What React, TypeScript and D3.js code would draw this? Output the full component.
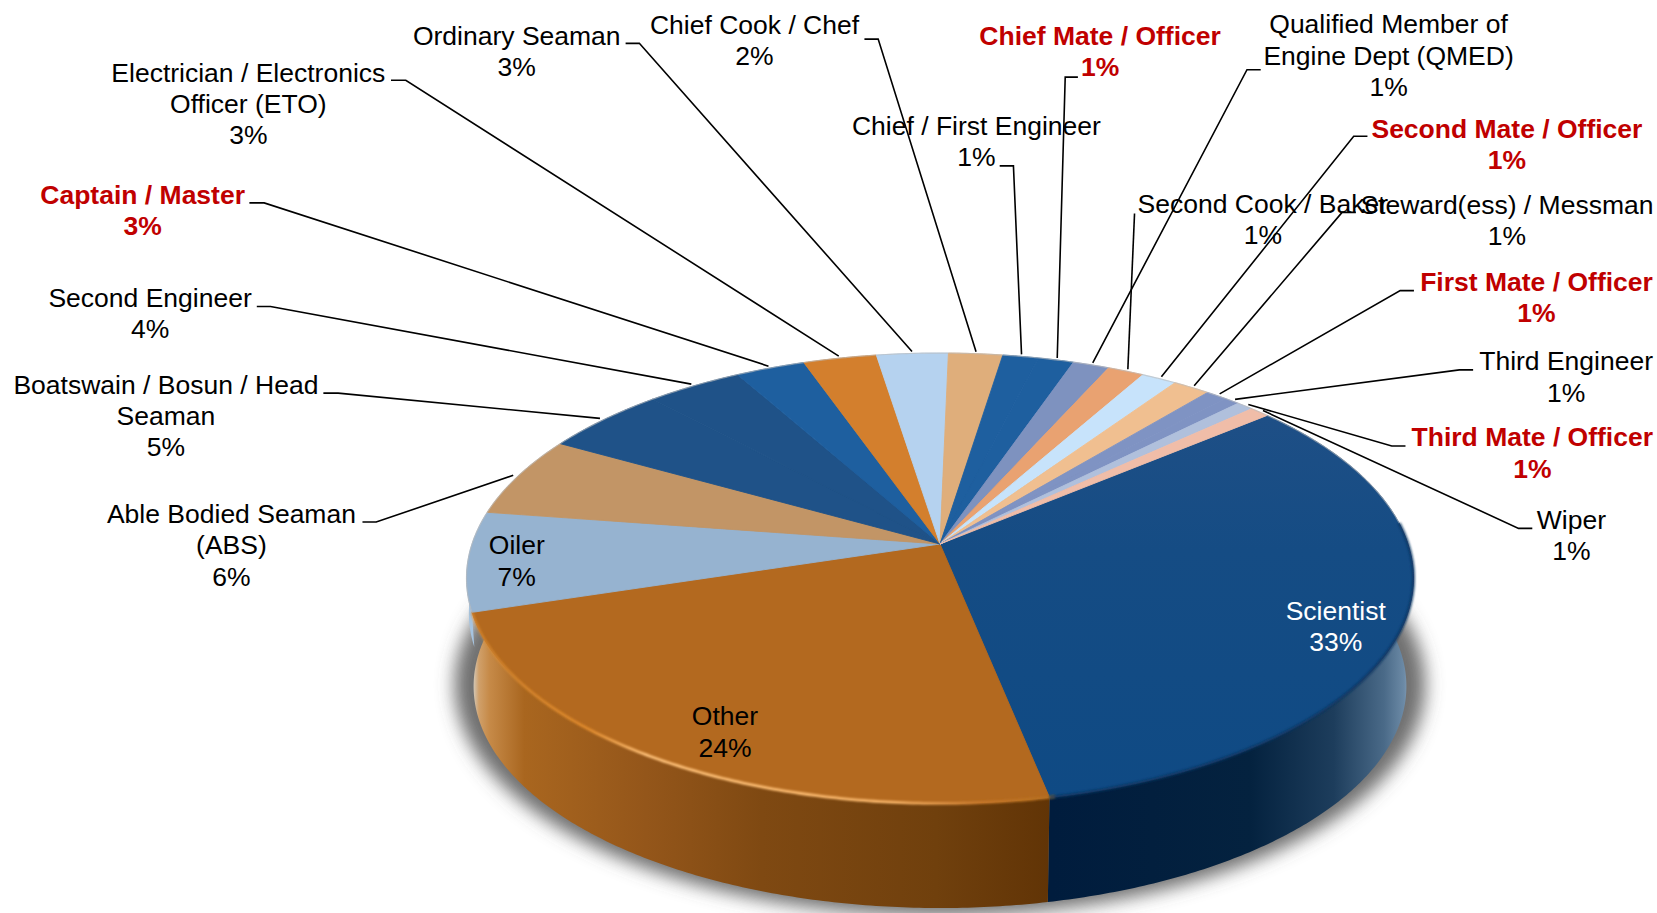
import React from "react";
import * as d3 from "d3";

const categories = ["Scientist","Other","Oiler","Able Bodied Seaman (ABS)","Boatswain / Bosun / Head Seaman","Second Engineer","Captain / Master","Electrician / Electronics Officer (ETO)","Ordinary Seaman","Chief Cook / Chef","Chief / First Engineer","Chief Mate / Officer","Qualified Member of Engine Dept (QMED)","Second Cook / Baker","Second Mate / Officer","Steward(ess) / Messman","First Mate / Officer","Third Engineer","Third Mate / Officer","Wiper"];
const values = [32.9,23.4,7.15,5.8,4.9,3.8,2.75,2.9,2.83,2.14,1.41,1.41,1.44,1.44,1.39,1.47,0.84,0.6,0.67,0.78];
const percentLabels = ["33%","24%","7%","6%","5%","4%","3%","3%","3%","2%","1%","1%","1%","1%","1%","1%","1%","1%","1%","1%"];
const topColors = ["#174c85","#b3691f","#96b3d0","#c29566","#1f5288","#1f5288","#1e5f9f","#d37f2d","#b5d2ef","#dfae7b","#1e5f9f","#1e5f9f","#7e92bf","#e9a271","#c7e3fb","#f0bf90","#7f93c3","#7f93c3","#b0c0dc","#f0bda8"];
const boldRed = ["Captain / Master","Chief Mate / Officer","Second Mate / Officer","First Mate / Officer","Third Mate / Officer"];

const lineBreaks: Record<string,string[]> = {
  "Able Bodied Seaman (ABS)":["Able Bodied Seaman","(ABS)"],
  "Boatswain / Bosun / Head Seaman":["Boatswain / Bosun / Head","Seaman"],
  "Electrician / Electronics Officer (ETO)":["Electrician / Electronics","Officer (ETO)"],
  "Qualified Member of Engine Dept (QMED)":["Qualified Member of","Engine Dept (QMED)"],
};
// [centre x, first-line centre y, elbow start x, elbow x, elbow y] in 1568-wide reference units
const labelLayout: Record<string,number[]> = {
  "Scientist":[1264,578],
  "Other":[686,678],
  "Oiler":[489,516],
  "Able Bodied Seaman (ABS)":[219,486.5,343,356,494],
  "Boatswain / Bosun / Head Seaman":[157,364,306,320,372],
  "Second Engineer":[142,282,243,256,290],
  "Captain / Master":[135,184.5,236,250,192],
  "Electrician / Electronics Officer (ETO)":[235,69,370,384,76],
  "Ordinary Seaman":[489,34,592,605,41],
  "Chief Cook / Chef":[714,23.5,818,831,37],
  "Chief / First Engineer":[924,119,946,959,157],
  "Chief Mate / Officer":[1041,34,1020,1008,73],
  "Qualified Member of Engine Dept (QMED)":[1314,23,1193,1180,66],
  "Second Cook / Baker":[1195,193,1073.6,1073.6,202],
  "Second Mate / Officer":[1426,122,1294,1281,129],
  "Steward(ess) / Messman":[1426,194,1283,1270,201],
  "First Mate / Officer":[1454,267,1338,1325,275],
  "Third Engineer":[1482,342,1394,1381,350],
  "Third Mate / Officer":[1450,414,1330,1317,422],
  "Wiper":[1487,492,1450,1437,500],
};

const W = 1657, H = 913, K = 1657 / 1568;
const apexX = 940, apexY = 544;
const A = 468, B = 220, P = -0.152;
const DEPTH = 108.5;
const DEG = Math.PI / 180;

// perspective projection of a point on the unit pie disc
function project(theta: number, r = 1, shift = 0, shrink = 1): [number, number] {
  const u = r * Math.sin(theta), v = -r * Math.cos(theta);
  const w = 1 + P * v;
  return [apexX + (A * shrink * u) / w, apexY + shift + (B * shrink * v) / w];
}
const line = d3.line();
function samples(a0: number, a1: number, shift = 0, shrink = 1) {
  const n = Math.max(2, Math.ceil(Math.abs(a1 - a0) / 0.01));
  return d3.range(n + 1).map((i) => project(a0 + ((a1 - a0) * i) / n, 1, shift, shrink));
}

const start = 50.1 * DEG;
const pie = d3.pie<number>().sort(null).startAngle(start).endAngle(start + 2 * Math.PI);
const arcs = pie(values);

export default function App() {
  const bottomShadow = line(samples(0, 2 * Math.PI, DEPTH - 3, 1.025))! + "Z";
  const sideSci = line([...samples(arcs[0].startAngle, arcs[0].endAngle), ...samples(arcs[0].startAngle, arcs[0].endAngle, DEPTH, 0.985).reverse()])! + "Z";
  const sideOther = line([...samples(arcs[1].startAngle, arcs[1].endAngle), ...samples(arcs[1].startAngle, 274 * DEG, DEPTH, 0.985).reverse()])! + "Z";
  const sideOiler = line([...samples(arcs[2].startAngle, 272 * DEG), ...samples(arcs[2].startAngle, 272 * DEG, 35, 0.995).reverse()])! + "Z";
  const otherRim = line(samples(arcs[1].startAngle - 0.01, arcs[1].endAngle))!;
  const sciRim = line(samples(arcs[0].startAngle + 0.6, arcs[0].endAngle))!;
  const backRim = line(samples(arcs[2].startAngle, arcs[19].endAngle + 0.6))!;
  return (
    <svg width={W} height={H} style={{ position: "absolute", left: 0, top: 0, background: "#fff" }} fontFamily="'Liberation Sans', Arial, sans-serif" fontSize={26.5}>
      <defs>
        <filter id="blur" x="-20%" y="-20%" width="140%" height="140%"><feGaussianBlur stdDeviation="9" /></filter>
        <filter id="soft" x="-5%" y="-5%" width="110%" height="110%"><feGaussianBlur stdDeviation="1.2" /></filter>
        <linearGradient id="sideOther" gradientUnits="userSpaceOnUse" x1={472} x2={1052} y1={0} y2={0}>
          <stop offset="0" stopColor="#d4d2cc" /><stop offset="0.012" stopColor="#d0a06a" /><stop offset="0.03" stopColor="#c68a48" /><stop offset="0.09" stopColor="#a9661f" /><stop offset="0.3" stopColor="#94561a" /><stop offset="0.5" stopColor="#7f4912" /><stop offset="0.8" stopColor="#70400d" /><stop offset="1" stopColor="#613406" />
        </linearGradient>
        <linearGradient id="sideSci" gradientUnits="userSpaceOnUse" x1={1052} x2={1413} y1={0} y2={0}>
          <stop offset="0" stopColor="#001c3d" /><stop offset="0.55" stopColor="#04223f" /><stop offset="0.78" stopColor="#1d3d5c" /><stop offset="0.92" stopColor="#4a6a88" /><stop offset="0.975" stopColor="#6c8aa6" /><stop offset="1" stopColor="#9ab0c6" />
        </linearGradient>
        <linearGradient id="rimOther" gradientUnits="userSpaceOnUse" x1={472} x2={1052} y1={0} y2={0}>
          <stop offset="0" stopColor="#d98a30" stopOpacity="0.7" /><stop offset="0.2" stopColor="#e08a2c" /><stop offset="0.3" stopColor="#ffc27a" /><stop offset="0.72" stopColor="#f7b56a" /><stop offset="0.88" stopColor="#c8782a" /><stop offset="1" stopColor="#b5701f" />
        </linearGradient>
        <linearGradient id="topSci" gradientUnits="userSpaceOnUse" x1={0} x2={0} y1={417} y2={798}>
          <stop offset="0" stopColor="#1e4f86" /><stop offset="0.35" stopColor="#154c84" /><stop offset="1" stopColor="#0f4a84" />
        </linearGradient>
      </defs>
      <path d={bottomShadow} fill="#555" fillOpacity={0.85} filter="url(#blur)" />
      <path d={sideOiler} fill="#a6c4e0" />
      <path d={sideSci} fill="url(#sideSci)" />
      <path d={sideOther} fill="url(#sideOther)" />
      {arcs.map((s, i) => {
        const pts = samples(s.startAngle, s.endAngle);
        return <path key={i} d={line([[apexX, apexY], ...pts])! + "Z"} fill={i === 0 ? "url(#topSci)" : topColors[i]} stroke={i === 0 ? "#154c84" : topColors[i]} strokeWidth={0.9} />;
      })}
      <path d={backRim} fill="none" stroke="#bbb" strokeOpacity={0.6} strokeWidth={1.2} />
      <path d={otherRim} fill="none" stroke="url(#rimOther)" strokeWidth={2.8} filter="url(#soft)" />
      <path d={sciRim} fill="none" stroke="#0b3560" strokeOpacity={0.85} strokeWidth={3} filter="url(#soft)" />
      {arcs.map((s, i) => {
        const name = categories[i];
        const lay = labelLayout[name];
        const lines = [...(lineBreaks[name] ?? [name]), percentLabels[i]];
        const red = boldRed.includes(name);
        const fill = red ? "#c00000" : name === "Scientist" ? "#fff" : "#000";
        const [cx, cy, x0, x1, y1] = lay;
        let leader: string | null = null;
        if (x0 !== undefined) {
          const mid = (s.startAngle + s.endAngle) / 2;
          const end = project(mid, 1.012);
          leader = line([[x0 * K, y1 * K], [x1 * K, y1 * K], end])!;
        }
        return (
          <g key={name}>
            {leader && <path d={leader} fill="none" stroke="#000" strokeWidth={1.6} />}
            <text x={cx * K} textAnchor="middle" fill={fill} fontWeight={red ? 700 : 400}>
              {lines.map((t, j) => (
                <tspan key={j} x={cx * K} y={(cy + j * 29.55) * K + 9}>{t}</tspan>
              ))}
            </text>
          </g>
        );
      })}
    </svg>
  );
}
